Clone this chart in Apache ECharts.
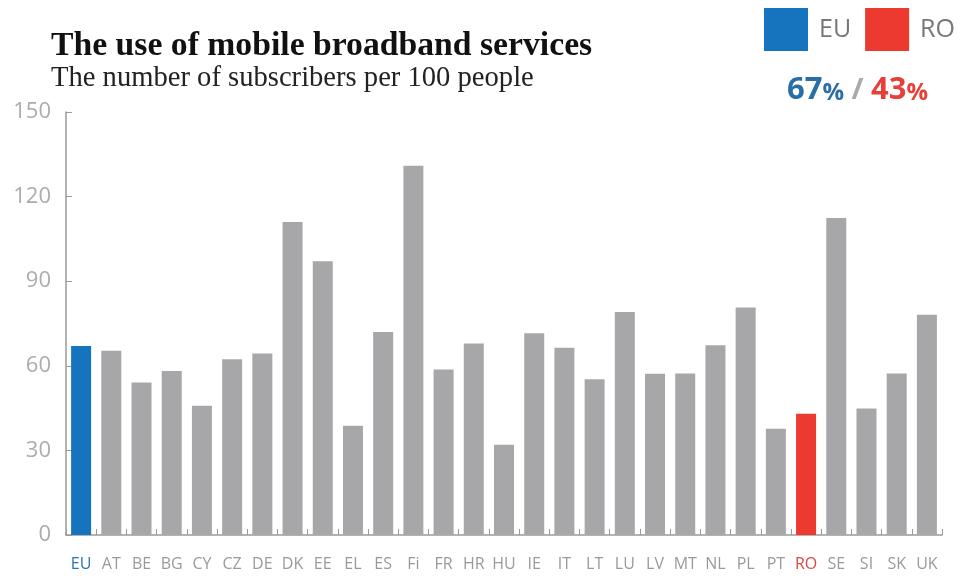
<!DOCTYPE html>
<html>
<head>
<meta charset="utf-8">
<script src="https://cdn.jsdelivr.net/npm/echarts@6/dist/echarts.min.js"></script>
<style>
  html, body { margin: 0; padding: 0; background: #fff; }
  #chart { width: 960px; height: 576px; }
</style>
</head>
<body>
<div id="chart"></div>
<script>
// Countries and subscribers per 100 people
var countries = ['EU', 'AT', 'BE', 'BG', 'CY', 'CZ', 'DE', 'DK', 'EE', 'EL', 'ES', 'Fi', 'FR', 'HR', 'HU',
  'IE', 'IT', 'LT', 'LU', 'LV', 'MT', 'NL', 'PL', 'PT', 'RO', 'SE', 'SI', 'SK', 'UK'];
var subscribers = [67, 65.3, 54.1, 58.2, 45.8, 62.3, 64.4, 111, 97.1, 38.7, 72, 130.9, 58.7, 67.9, 32,
  71.5, 66.4, 55.2, 79.1, 57.2, 57.3, 67.3, 80.7, 37.7, 43, 112.4, 44.9, 57.3, 78.1];
var yTicks = [0, 30, 60, 90, 120, 150];

var blue = '#1673bd';
var red = '#ec3a30';
var grey = '#a7a7a9';

// split into three series so that EU and RO get their own legend entries
function pick(fn) {
  return subscribers.map(function (v, i) { return fn(countries[i]) ? v : '-'; });
}
var euData = pick(function (c) { return c === 'EU'; });
var roData = pick(function (c) { return c === 'RO'; });
var restData = pick(function (c) { return c !== 'EU' && c !== 'RO'; });

var myChart = echarts.init(document.getElementById('chart'));

myChart.setOption({
  animation: false,
  title: [
    {
      text: 'The use of mobile broadband services',
      subtext: 'The number of subscribers per 100 people',
      left: 46,
      top: 24,
      itemGap: 1,
      textStyle: {
        fontFamily: 'Liberation Serif',
        fontSize: 33.7,
        fontWeight: 'bold',
        color: '#111'
      },
      subtextStyle: {
        fontFamily: 'Liberation Serif',
        fontSize: 28.6,
        color: '#222'
      }
    },
    {
      text: '{eu|67}{eup|%}{sl| / }{ro|43}{rop|%}',
      left: 782,
      top: 70,
      textStyle: {
        rich: {
          eu: { fontFamily: 'Open Sans', fontSize: 31, fontWeight: 'bold', color: '#2a6ea8' },
          eup: { fontFamily: 'Open Sans', fontSize: 24, fontWeight: 'bold', color: '#2a6ea8', padding: [5, 0, 0, 0] },
          sl: { fontFamily: 'Open Sans', fontSize: 29, color: '#aaa' },
          ro: { fontFamily: 'Open Sans', fontSize: 31, fontWeight: 'bold', color: '#e5403a' },
          rop: { fontFamily: 'Open Sans', fontSize: 24, fontWeight: 'bold', color: '#e5403a', padding: [5, 0, 0, 0] }
        }
      }
    }
  ],
  legend: {
    data: ['EU', 'RO'],
    left: 759,
    top: 3,
    itemWidth: 44,
    itemHeight: 43,
    itemGap: 14,
    icon: 'rect',
    textStyle: {
      fontFamily: 'Open Sans',
      fontSize: 25,
      color: '#777',
      padding: [0, 0, 0, 6]
    }
  },
  grid: {
    left: 66,
    right: 18,
    top: 112,
    bottom: 41,
    containLabel: false
  },
  xAxis: {
    type: 'category',
    data: countries,
    axisLine: { lineStyle: { color: '#9a9a9a', width: 1.5 } },
    axisTick: { show: true, inside: true, length: 6, lineStyle: { color: '#9a9a9a' } },
    axisLabel: {
      interval: 0,
      margin: 21,
      fontFamily: 'Open Sans',
      fontSize: 16,
      color: function (value) {
        if (value === 'EU') return '#2a73b8';
        if (value === 'RO') return '#e0453f';
        return '#9a9a9a';
      }
    }
  },
  yAxis: {
    type: 'value',
    min: yTicks[0],
    max: yTicks[yTicks.length - 1],
    interval: 30,
    splitLine: { show: false },
    axisLine: { show: true, lineStyle: { color: '#9a9a9a', width: 1.5 } },
    axisTick: { show: true, inside: true, length: 6, lineStyle: { color: '#9a9a9a' } },
    axisLabel: {
      margin: 15,
      fontFamily: 'Open Sans',
      fontSize: 22,
      color: '#acacac'
    }
  },
  series: [
    {
      name: 'EU',
      type: 'bar',
      stack: 'all',
      data: euData,
      barWidth: 20,
      itemStyle: { color: blue }
    },
    {
      name: 'RO',
      type: 'bar',
      stack: 'all',
      data: roData,
      barWidth: 20,
      itemStyle: { color: red }
    },
    {
      name: 'Other',
      type: 'bar',
      stack: 'all',
      data: restData,
      barWidth: 20,
      itemStyle: { color: grey }
    }
  ]
});
</script>
</body>
</html>
